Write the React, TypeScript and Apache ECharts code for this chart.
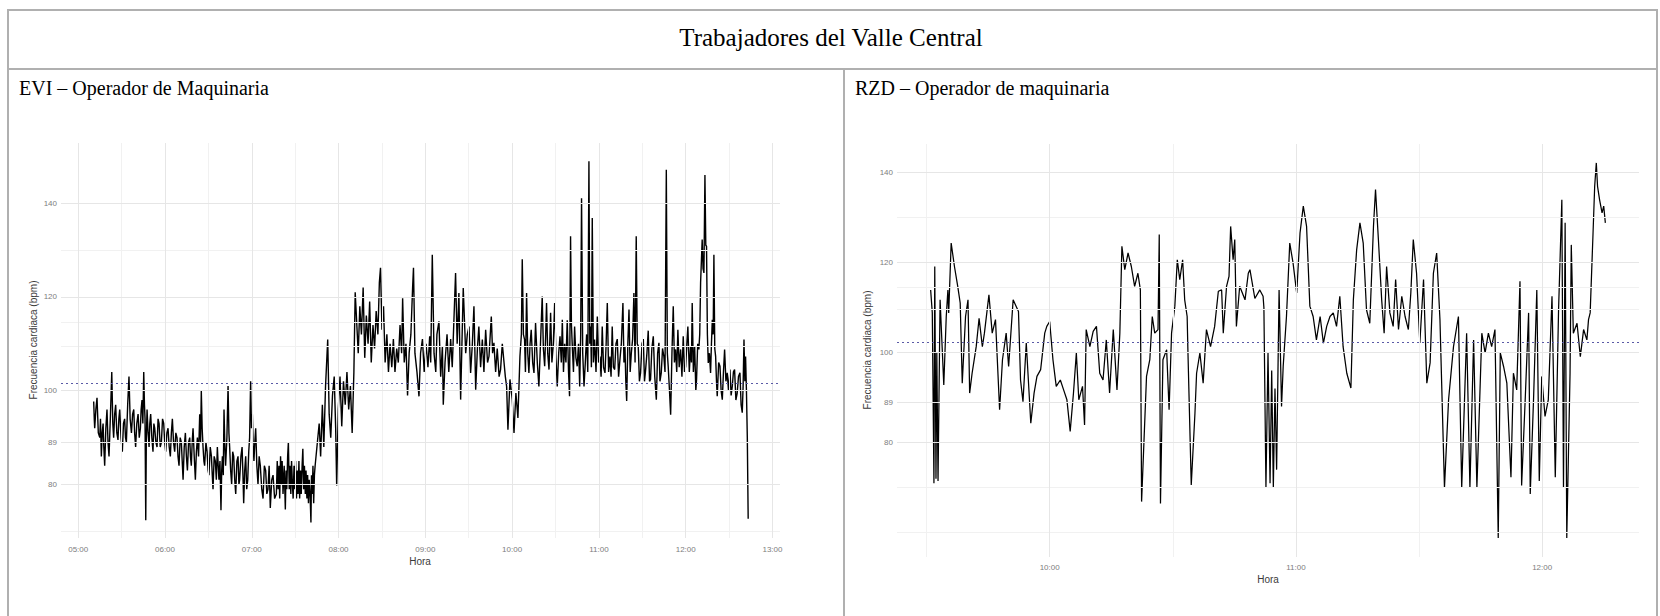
import React, { useEffect, useRef } from "react";
import * as echarts from "echarts";

// ---------- DATA (minutes since midnight, bpm) ----------
const eviTime = [
  310.7, 311.1, 311.4, 312.2, 313.0, 313.9, 314.9, 315.4, 316.0, 316.6,
  317.2, 317.7, 318.3, 319.1, 319.9, 320.6, 321.3, 322.3, 323.2, 323.9,
  324.5, 325.2, 325.9, 326.7, 327.5, 328.1, 328.7, 329.6, 330.5, 331.3,
  332.1, 332.7, 333.3, 334.2, 335.1, 335.9, 336.8, 337.6, 338.4, 339.0,
  339.7, 340.5, 341.4, 342.2, 343.0, 343.5, 344.1, 344.7, 345.3, 345.8,
  346.2, 346.7, 347.1, 347.6, 348.3, 349.0, 349.5, 350.1, 350.9, 351.7,
  352.3, 352.9, 353.7, 354.5, 355.2, 355.9, 356.7, 357.5, 358.3, 359.1,
  359.8, 360.5, 361.3, 362.1, 362.9, 363.7, 364.4, 365.1, 365.9, 366.7,
  367.5, 368.3, 369.0, 369.7, 370.5, 371.3, 371.9, 372.5, 373.3, 374.1,
  374.8, 375.5, 376.3, 377.1, 377.6, 378.2, 378.8, 379.4, 380.2, 381.0,
  381.7, 382.4, 383.2, 384.0, 384.6, 385.1, 385.7, 386.3, 386.9, 387.4,
  388.3, 389.1, 389.8, 390.4, 391.3, 392.1, 392.7, 393.2, 394.0, 394.8,
  395.5, 396.2, 396.8, 397.3, 398.0, 398.7, 399.2, 399.7, 400.3, 400.8,
  401.4, 401.9, 402.8, 403.6, 404.2, 404.7, 405.4, 406.1, 406.8, 407.5,
  408.2, 408.9, 409.7, 410.5, 411.1, 411.6, 412.5, 413.3, 413.9, 414.4,
  415.1, 415.8, 416.5, 417.2, 417.9, 418.5, 419.2, 419.8, 420.4, 421.0,
  421.5, 422.1, 422.7, 423.5, 424.3, 425.1, 425.9, 426.9, 427.8, 428.7,
  429.6, 430.4, 431.2, 432.0, 432.8, 433.8, 434.7, 435.8,
  437.0, 437.6, 438.2, 438.8, 439.3, 439.9, 440.5, 441.0, 441.6, 442.4,
  443.2, 443.7, 444.2, 444.8, 445.3, 445.9, 446.4, 447.0, 447.5, 448.1,
  448.6, 449.2, 449.8, 450.3, 450.9, 451.5, 452.0, 452.6, 453.1, 453.7,
  454.2, 454.8, 455.3, 455.9, 456.4, 457.0, 457.5, 458.1, 458.6, 459.2,
  459.7, 460.3, 460.9, 461.3, 461.8, 462.3, 462.8, 463.3, 463.8,
  466.6, 467.6, 468.8, 469.8, 471.0, 472.5, 473.5, 474.6, 475.8, 477.0,
  478.0, 478.7, 479.8, 481.0, 482.2, 483.4, 484.6, 485.8, 487.0, 488.2,
  489.4, 490.6, 491.5,
  493.6, 494.7, 495.8, 497.0, 498.1, 499.2, 500.4, 501.5, 502.6, 503.8,
  504.9, 506.0, 507.2, 508.2, 509.0, 510.0, 511.1, 512.2, 513.4, 514.5,
  515.6, 516.8, 517.9, 519.0, 520.2, 521.3, 522.5, 523.6, 524.3, 525.4,
  526.6, 527.7, 528.8, 530.0, 531.2, 531.8, 532.8, 534.2,
  535.6, 536.7, 538.0, 539.2, 540.5, 541.8, 543.0, 543.7, 544.8, 546.0,
  547.2, 548.0, 549.4, 550.6, 551.8, 552.4, 553.6, 555.0, 556.2, 557.5,
  558.6, 560.9, 562.0, 563.2, 564.4, 565.3, 566.2, 567.9, 569.0, 570.2,
  571.3, 572.5, 573.6, 574.8, 576.0, 577.0, 578.2, 579.4, 580.5, 581.7,
  583.0, 584.0, 585.6, 586.5, 587.4, 588.6, 589.7, 591.0, 592.0, 593.2,
  594.4, 595.3, 596.2, 597.1, 598.5, 600.1, 601.3, 602.6, 604.0, 605.4,
  606.4, 607.0, 607.8, 608.6, 609.2, 610.0, 610.8, 611.6, 612.4, 613.2,
  614.2, 615.1, 616.2, 617.4, 618.5, 619.6, 620.8, 621.6, 622.5, 623.2,
  623.8, 624.6, 625.5, 626.6, 627.5, 628.5, 629.4, 630.3, 631.2, 632.2,
  633.1, 634.0, 634.7, 635.5, 636.3, 637.2, 638.1, 639.0, 639.7, 640.4,
  641.0, 641.6, 642.4, 643.2, 644.1, 645.0, 645.9, 646.7, 647.4, 648.0,
  648.8, 649.7, 650.6, 651.5, 652.3, 653.1, 653.7, 654.3, 654.8, 655.4,
  656.2, 657.0, 658.0, 658.9, 659.8, 660.7, 661.5, 662.3, 663.2, 664.2,
  665.0, 665.8, 666.7, 667.6, 668.4, 669.2, 670.0, 670.9, 671.8, 672.7,
  673.6, 674.5, 675.5, 676.6, 677.3, 678.0, 678.6, 679.2, 680.0, 680.8,
  681.6, 682.4, 683.3, 684.2, 685.0, 685.8, 686.5, 687.2, 688.0, 688.8,
  689.8, 690.7, 691.5, 692.3, 693.2, 694.1, 695.0, 695.7, 696.6, 697.6,
  698.6, 699.7, 700.6, 701.5, 702.2, 703.1, 704.0, 704.9, 705.7, 706.6,
  707.3, 707.9, 708.8, 709.6, 710.5, 711.4, 712.2, 713.0, 713.8, 714.6,
  715.5, 716.5, 717.4, 718.3, 719.2, 720.0, 720.8, 721.5, 722.5, 723.4,
  724.0, 724.5, 725.3, 726.2, 727.0, 727.5, 728.3, 729.1, 729.7, 730.3,
  730.9, 731.4, 732.0, 732.6, 733.3, 733.9, 734.4, 735.0, 735.6, 736.4,
  737.2, 737.8, 738.4, 739.0, 739.5, 740.1, 740.7, 741.3, 741.8, 742.8,
  743.7, 744.5, 745.3, 746.1, 746.9, 747.8, 748.7, 749.6, 750.6, 751.4,
  752.2, 753.0, 753.8, 754.7, 755.6, 756.5, 757.5, 758.3, 759.1, 759.7,
  760.3, 760.9, 761.4, 762.0, 762.6, 763.2,
];
const eviBpm = [
  97.7, 94, 92, 96, 98.5, 91, 90, 94, 86, 91,
  93, 88, 84, 92, 96, 89, 86, 95, 104, 93,
  90, 95, 97, 91, 89.5, 94, 96, 90, 87, 93,
  94, 90, 89, 97, 103, 94, 91, 95, 96, 91,
  88, 93, 95, 90, 92, 96, 98, 93, 104, 97,
  94, 72.4, 90, 96, 91, 88, 93, 95, 90, 87,
  93, 92, 89, 88, 94, 93, 88, 89, 94, 93,
  89, 87, 91, 92, 88, 86, 91, 94, 89, 87,
  91, 90, 86, 84, 90, 89, 85, 81, 88, 91,
  86, 83, 89, 90, 86, 84, 89, 92, 86, 81,
  87, 90, 86, 95, 89, 100, 92, 88, 85, 84,
  89, 87, 83, 82, 88, 86, 82, 79, 86, 85,
  81, 88, 84, 81, 85, 74.5, 83, 86, 82, 96,
  88, 84, 90, 101, 91, 88, 83, 80, 87, 86,
  81, 78, 85, 86, 80, 81, 86, 88, 82, 76,
  83, 86, 79, 81, 87, 90, 102, 92, 95, 88,
  85, 89, 92, 84, 80, 86, 84, 79, 77, 84,
  83, 78, 79, 84, 75, 81, 82, 77,
  78, 85, 79, 84, 77, 86, 80, 85, 78, 84,
  74.7, 83, 79, 86, 89, 79, 84, 78, 85, 80,
  77, 84, 79, 85, 77, 83, 78, 85, 77, 83,
  78, 84, 87.6, 79, 84, 78, 83, 77, 82, 76,
  81, 78, 71.9, 82, 78, 84, 76, 82, 84,
  93, 86, 97, 88, 101, 110.9, 95, 90, 99, 103,
  92, 79.8, 96, 103, 92.4, 102, 97, 104, 96, 101,
  91, 104, 121,
  108, 118, 112, 122, 107, 116, 110, 119, 106, 114,
  109, 117, 112, 123, 126.2, 113, 118, 106, 112, 104,
  110, 105, 111, 104, 109, 106, 114, 108, 119.7, 106,
  110, 99, 108, 112, 122, 126.2, 108, 104,
  98.8, 108, 111, 104, 110, 105, 111.6, 106, 129, 108,
  104, 112, 114.8, 103, 109.5, 97, 106, 112, 104, 111,
  105, 125.1, 110, 120.8, 98.1, 110, 121.9, 108, 112, 113.7,
  103.8, 110, 118, 100.2, 109, 113.7, 105, 110.9, 104, 113,
  106, 107.3, 115.8, 108, 110.2, 104, 109, 103, 104.5, 110,
  106, 103, 100.9, 91.7, 102.4, 98.1, 91, 99.5, 94.2, 107.3,
  112, 128, 112, 110.9, 104, 120.8, 108, 103.8, 110, 113,
  106, 103.8, 114.4, 106, 100.9, 110, 120.1, 109, 105.2, 112,
  118.7, 108, 104.5, 116.6, 106, 110, 118.7, 107, 100.9, 108,
  111.6, 106, 115.1, 104, 110, 106, 115, 104, 98.8, 132.9,
  114, 109.5, 104, 113.7, 107, 105.2, 110, 100.9, 112, 141,
  108, 100.9, 106, 112, 104, 148.9, 110, 113.7, 105, 136.8,
  106, 110.9, 104, 115.8, 106, 107.3, 103, 113.7, 105, 103.8,
  110, 118.7, 104, 107.3, 103, 113.7, 105, 104.5, 110, 111,
  103, 106.5, 110, 118.7, 106, 109.5, 102, 97.8, 110, 117.3,
  104, 108, 111, 120.8, 106, 132.9, 110, 109.5, 102, 103.8,
  110, 111, 102, 104.5, 108, 112.8, 102, 102.4, 109, 111.6,
  103, 98.1, 108, 110.2, 102, 103.8, 109, 107.3, 104, 147.1,
  108, 105.2, 100, 94.9, 108, 118, 106, 108.8, 104, 113,
  105, 108.8, 103, 111.6, 104, 105.2, 110, 113.7, 104, 109.5,
  106, 118.7, 104, 109.5, 100, 102.4, 110, 108.8, 112, 123,
  128, 132.2, 126, 125.1, 146, 131, 130.8, 112, 105.9, 108,
  103.8, 110, 115.1, 112, 129, 109, 107.3, 102, 98.8, 106,
  105.2, 100, 98.1, 104, 108.8, 102, 103.8, 100, 104.5, 99,
  100.9, 104, 104.5, 98, 99.5, 103, 103.8, 97, 95.3, 101,
  110.9, 102, 107.3, 100, 90, 72.7,
];

const rzdTime = [
  571.0, 571.4, 571.8, 572.0, 572.3, 572.5, 572.8, 573.3, 574.2, 574.8,
  575.2, 575.4, 576.0, 576.8, 577.6, 578.2, 578.7, 579.5, 580.1, 580.5,
  581.1, 582.1, 582.8, 583.6, 584.1, 585.2, 586.0, 586.8, 587.8, 588.5,
  589.4, 590.0, 591.1, 592.4, 592.9, 593.5, 594.3, 595.4, 596.2, 596.9,
  597.8, 598.8, 599.3, 600.0, 600.8, 601.6, 602.6, 603.4, 604.2, 605.0,
  605.8, 606.5, 607.1, 608.0, 608.5, 608.9, 609.8, 610.6, 611.4, 612.2,
  613.0, 613.8, 614.6, 615.5, 616.4, 617.1, 617.6, 618.3, 619.1, 619.9,
  620.7, 621.5, 622.1, 622.4, 623.6, 624.4, 625.0, 625.6, 626.4, 626.7,
  627.0, 627.6, 628.5, 629.1, 629.7, 630.5, 631.1, 631.7, 632.4, 632.9,
  633.5, 633.7, 634.5, 635.4, 635.8, 636.6, 637.4, 638.2, 639.2, 640.2,
  641.1, 641.9, 642.3, 643.1, 643.7, 644.1, 644.7, 645.1, 645.5, 646.3,
  647.6, 648.4, 648.8, 650.0, 651.2, 652.0, 652.2, 652.7, 653.2, 653.7,
  654.1, 654.5, 654.9, 655.3, 655.9, 656.5, 656.9, 657.7, 658.5, 659.3,
  660.2, 661.0, 661.8, 662.6, 663.4, 664.2, 665.0, 665.9, 666.7, 667.5,
  668.3, 669.1, 669.9, 670.7, 671.5, 672.4, 673.4, 674.0, 674.8, 675.6,
  676.4, 677.2, 678.0, 678.9, 679.4, 680.1, 680.9, 681.5, 682.1, 682.9,
  683.7, 684.3, 685.0, 685.8, 686.6, 687.4, 688.0, 688.6, 689.4, 690.2,
  691.1, 691.9, 692.7, 693.5, 694.3, 695.1, 696.2, 697.2, 698.4, 699.6,
  700.4, 701.6, 702.4, 703.3, 704.1, 705.3, 706.1, 706.9, 707.7, 708.5,
  709.3, 709.8, 710.6, 711.4, 712.4, 713.0, 713.8, 714.6, 715.0, 715.9,
  716.7, 717.1, 717.9, 718.7, 719.3, 719.9, 720.7, 721.5, 722.4, 723.2,
  724.0, 724.8, 725.2, 725.6, 726.0, 726.8, 727.1, 727.6, 728.5, 729.3,
  730.1, 730.9, 731.3, 731.7, 732.4, 732.8, 733.2, 733.5, 734.0, 734.6,
  735.0, 735.4,
];
const rzdBpm = [
  113.9, 108.8, 71.0, 119.1, 72, 100, 71.5, 111.7, 92.8, 108,
  113.9, 108.8, 124.3, 119.1, 114.7, 111, 93.2, 108, 111.7, 91,
  95.4, 101.3, 107.6, 101.3, 104.3, 112.8, 104.3, 107.3, 87.3, 98.4,
  104.3, 96.9, 111.7, 109.1, 93.9, 89.1, 102.1, 84.3, 91, 94.7,
  96.2, 104.3, 105.8, 106.9, 98.4, 92.5, 93.9, 91.7, 89.5, 82.5,
  91, 99.9, 89.5, 92.5, 83.9, 105.1, 101.3, 104.7, 105.8, 95.4,
  93.9, 102.8, 91, 105.1, 91.7, 104.3, 123.6, 118.4, 122.1, 119.1,
  114.7, 117.6, 113.9, 66.9, 94.7, 98.4, 108, 104.3, 105.1, 126.2,
  66.5, 98.4, 100.6, 87.3, 104.3, 110.3, 120.6, 116.2, 120.6, 111.7,
  108, 99.9, 70.6, 86.5, 95.4, 99.9, 93.2, 105.1, 101.3, 105.8,
  113.6, 113.9, 104.3, 114.7, 116.9, 128, 120.6, 125.1, 105.8, 114.7,
  111.7, 117.6, 118.4, 112, 113.9, 112.5, 110, 70, 100, 71,
  96, 70, 92, 74, 113.9, 88, 96.9, 108, 124.3, 119.9,
  113.2, 126.5, 132.5, 128, 110.3, 108, 102.8, 108, 102.1, 105.8,
  108, 108.8, 105.8, 112.5, 101.3, 95.4, 92.1, 111.7, 122.8, 128.8,
  124.3, 109.5, 106.5, 128, 136.2, 125.1, 111.7, 104.3, 119.1, 108.8,
  105.8, 116.2, 105.1, 112.5, 108, 105.1, 113.2, 125.1, 117.6, 102.1,
  116.2, 93.2, 97.7, 117.6, 122.1, 107.3, 70, 89.5, 101.3, 108,
  70, 104.3, 70, 102.8, 70, 104.3, 99.9, 104.3, 101.3, 105.1,
  58.8, 99.9, 96.9, 93.2, 72.3, 95.4, 91.7, 115.8, 70.5, 90.2,
  108.8, 68.6, 89.5, 113.9, 71.5, 94.7, 85.8, 89.5, 112.5, 72.3,
  109.5, 133.9, 70, 128.8, 58.8, 95.4, 123.9, 104.3, 106.5, 99.1,
  105.1, 102.8, 107.3, 108.8, 126.5, 136.9, 142.1, 136.9, 133.9, 131,
  132.5, 128.8,
];

// ---------- AXES / GUIDES ----------
const bpmTicks = [80, 89, 100, 120, 140];
const eviMinorBpm = [70, 109.5, 114.5, 130];
const rzdMinorBpm = [60, 70, 109.5, 114.5, 130];
const eviHourTicks = [300, 360, 420, 480, 540, 600, 660, 720, 780];
const eviHalfHours = [330, 390, 450, 510, 570, 630, 690, 750];
const rzdHourTicks = [600, 660, 720];
const rzdHalfHours = [570, 630, 690];
const eviReference = 101.6;
const rzdReference = 102.3;

const pageTitle = "Trabajadores del Valle Central";
const eviTitle = "EVI – Operador de Maquinaria";
const rzdTitle = "RZD – Operador de maquinaria";
const yTitle = "Frecuencia cardiaca (bpm)";
const xTitle = "Hora";

const fmtTime = (m: number) => {
  const h = Math.floor(m / 60);
  const mm = Math.round(m - h * 60);
  return String(h).padStart(2, "0") + ":" + String(mm).padStart(2, "0");
};

const SANS = '"Liberation Sans", Arial, sans-serif';
const SERIF = '"Liberation Serif", "Times New Roman", serif';
const MAJOR = "#e6e6e6";
const MINOR = "#f1f1f1";
const BORDER = "#b0b0b0";

function gridLines(hours: number[], halves: number[], majorsY: number[], minorsY: number[]) {
  const ls = (c: string) => ({ color: c, width: 1, type: "solid" as const });
  return [
    ...halves.map((v) => ({ xAxis: v, lineStyle: ls(MINOR) })),
    ...minorsY.map((v) => ({ yAxis: v, lineStyle: ls(MINOR) })),
    ...hours.map((v) => ({ xAxis: v, lineStyle: ls(MAJOR) })),
    ...majorsY.map((v) => ({ yAxis: v, lineStyle: ls(MAJOR) })),
  ];
}

function buildOption() {
  const axisLabelBase = { color: "#7d7d7d", fontSize: 8, fontFamily: SANS };
  const xBase = {
    type: "value" as const,
    axisLine: { show: false },
    axisTick: { show: false },
    splitLine: { show: false },
  };
  const markBase = {
    silent: true,
    symbol: ["none", "none"],
    label: { show: false },
    emphasis: { disabled: true },
    animation: false,
  };
  const txt = (text: string, x: number, y: number, font: string, fill: string, align: string, rotation = 0) => ({
    type: "text",
    x,
    y,
    rotation,
    style: { text, font, fill, align, verticalAlign: "middle", textAlign: align, textVerticalAlign: "middle" },
  });
  const border = (x1: number, y1: number, x2: number, y2: number) => ({
    type: "line",
    z: 0,
    shape: { x1, y1, x2, y2 },
    style: { stroke: BORDER, lineWidth: 2 },
  });
  return {
    animation: false,
    backgroundColor: "#ffffff",
    grid: [
      { left: 61, top: 143, width: 719, height: 395, containLabel: false, outerBoundsMode: "none" },
      { left: 897, top: 144, width: 742, height: 413, containLabel: false, outerBoundsMode: "none" },
    ],
    xAxis: [
      {
        ...xBase,
        gridIndex: 0,
        min: 288.1,
        max: 785.2,
        axisLabel: { ...axisLabelBase, margin: 7, customValues: eviHourTicks, formatter: (v: number) => fmtTime(v) },
      },
      {
        ...xBase,
        gridIndex: 1,
        min: 562.8,
        max: 743.6,
        axisLabel: { ...axisLabelBase, margin: 6, customValues: rzdHourTicks, formatter: (v: number) => fmtTime(v) },
      },
    ],
    yAxis: [
      {
        ...xBase,
        gridIndex: 0,
        min: 68.6,
        max: 152.8,
        axisLabel: { ...axisLabelBase, margin: 4, customValues: bpmTicks, formatter: (v: number) => String(v) },
      },
      {
        ...xBase,
        gridIndex: 1,
        min: 54.6,
        max: 146.3,
        axisLabel: { ...axisLabelBase, margin: 4, customValues: bpmTicks, formatter: (v: number) => String(v) },
      },
    ],
    series: [
      {
        type: "line",
        xAxisIndex: 0,
        yAxisIndex: 0,
        z: 1,
        data: [[288.1, 68.6]],
        symbol: "none",
        lineStyle: { opacity: 0 },
        markLine: { ...markBase, data: gridLines(eviHourTicks, eviHalfHours, bpmTicks, eviMinorBpm) },
      },
      {
        type: "line",
        xAxisIndex: 1,
        yAxisIndex: 1,
        z: 1,
        data: [[562.8, 54.6]],
        symbol: "none",
        lineStyle: { opacity: 0 },
        markLine: { ...markBase, data: gridLines(rzdHourTicks, rzdHalfHours, bpmTicks, rzdMinorBpm) },
      },
      {
        type: "line",
        xAxisIndex: 0,
        yAxisIndex: 0,
        z: 3,
        symbol: "none",
        showSymbol: false,
        lineStyle: { color: "#000000", width: 1.4 },
        data: eviTime.map((t, i) => [t, eviBpm[i]]),
      },
      {
        type: "line",
        xAxisIndex: 1,
        yAxisIndex: 1,
        z: 3,
        symbol: "none",
        showSymbol: false,
        lineStyle: { color: "#000000", width: 1.25 },
        data: rzdTime.map((t, i) => [t, rzdBpm[i]]),
      },
      {
        type: "line",
        xAxisIndex: 0,
        yAxisIndex: 0,
        z: 5,
        data: [[288.1, 68.6]],
        symbol: "none",
        lineStyle: { opacity: 0 },
        markLine: {
          ...markBase,
          data: [{ yAxis: eviReference, lineStyle: { color: "#5a5aa6", width: 1, type: [2, 3] } }],
        },
      },
      {
        type: "line",
        xAxisIndex: 1,
        yAxisIndex: 1,
        z: 5,
        data: [[562.8, 54.6]],
        symbol: "none",
        lineStyle: { opacity: 0 },
        markLine: {
          ...markBase,
          data: [{ yAxis: rzdReference, lineStyle: { color: "#5a5aa6", width: 1, type: [2, 3] } }],
        },
      },
    ],
    graphic: [
      border(8, 10, 1657, 10),
      border(8, 69, 1657, 69),
      border(8, 9, 8, 620),
      border(1657, 9, 1657, 620),
      border(844, 69, 844, 620),
      txt(pageTitle, 831, 37, `25px ${SERIF}`, "#000", "center"),
      txt(eviTitle, 19, 88, `20px ${SERIF}`, "#000", "left"),
      txt(rzdTitle, 855, 88, `20px ${SERIF}`, "#000", "left"),
      txt(yTitle, 33, 340, `10px ${SANS}`, "#3a3a3a", "center", Math.PI / 2),
      txt(yTitle, 867, 350, `10px ${SANS}`, "#3a3a3a", "center", Math.PI / 2),
      txt(xTitle, 420, 561, `10px ${SANS}`, "#3a3a3a", "center"),
      txt(xTitle, 1268, 579, `10px ${SANS}`, "#3a3a3a", "center"),
    ],
  };
}

export default function App() {
  const ref = useRef<HTMLDivElement | null>(null);
  useEffect(() => {
    if (!ref.current) return;
    const chart = echarts.init(ref.current, undefined, { renderer: "svg" });
    chart.setOption(buildOption() as any);
    return () => chart.dispose();
  }, []);
  return (
    <div
      ref={ref}
      style={{ position: "absolute", left: 0, top: 0, width: 1660, height: 616, background: "#fff" }}
    />
  );
}
